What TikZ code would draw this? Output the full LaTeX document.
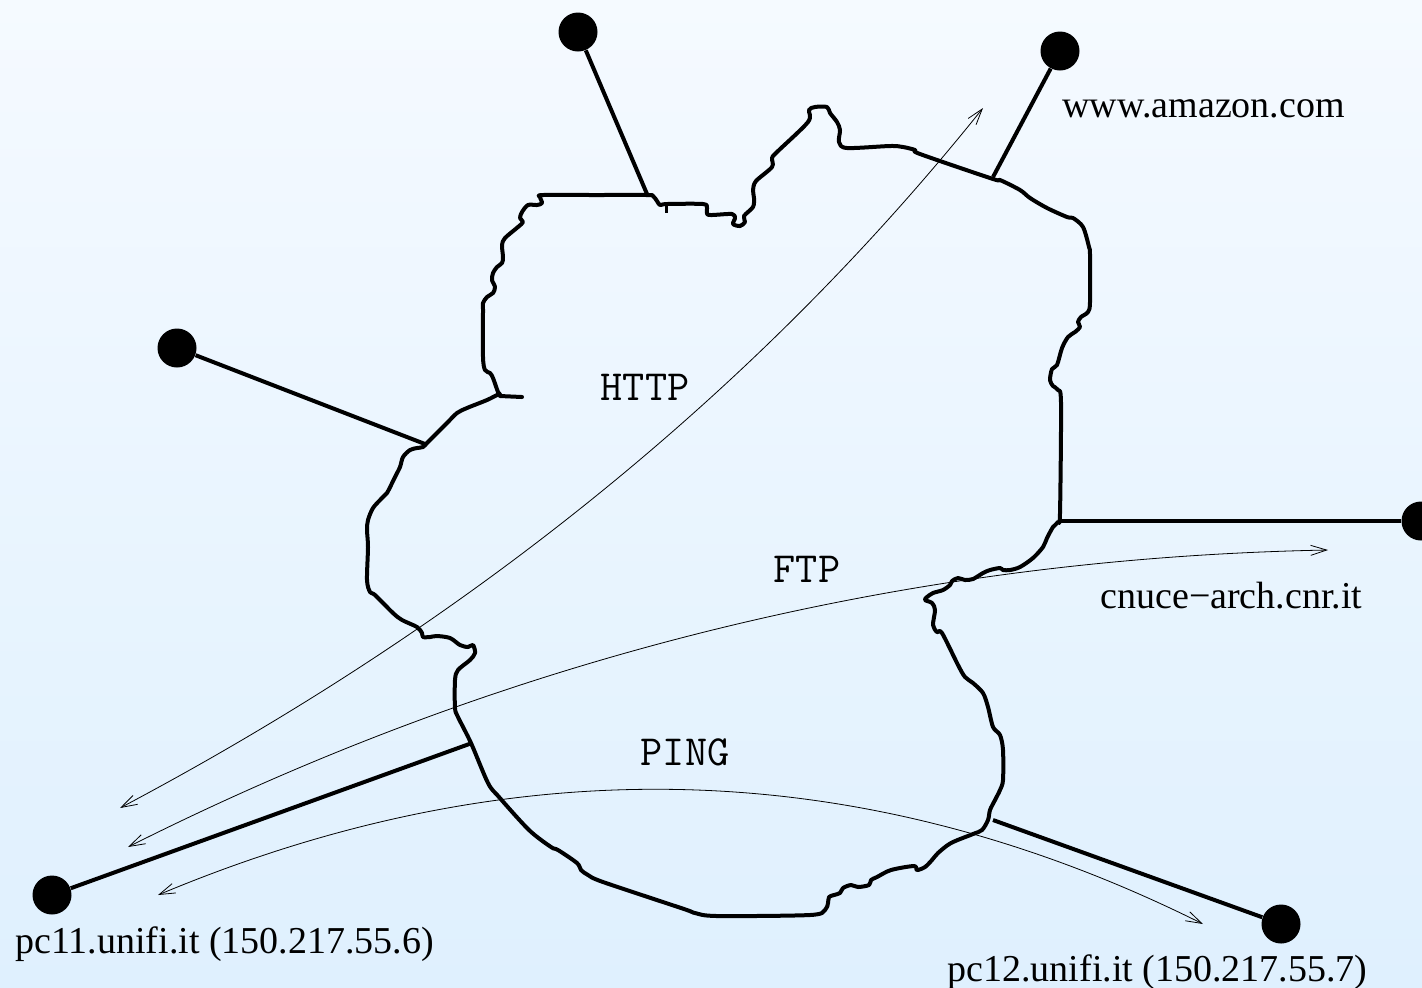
\documentclass[tikz,border=0pt]{standalone}
\usepackage{fontspec}
\setmainfont{Liberation Serif}
\usetikzlibrary{arrows.meta}
\definecolor{bgtop}{RGB}{245,250,255}
\definecolor{bgbot}{RGB}{223,240,254}
\begin{document}
\begin{tikzpicture}[x=0.5pt,y=-0.5pt,
  host/.style={circle,fill=black,inner sep=0pt,minimum size=19.5pt},
  wire/.style={line width=2pt},
  border/.style={line width=2pt,line join=round,line cap=round},
  flow/.style={line width=0.4pt,{Straight Barb[length=8pt,width=5pt]}-{Straight Barb[length=8pt,width=5pt]}},
  hostname/.style={inner sep=0pt,anchor=base west,font=\fontsize{19pt}{22pt}\selectfont},
  proto/.style={inner sep=0pt,font=\fontsize{21.5pt}{24pt}\selectfont\ttfamily}]
\useasboundingbox (0,0) rectangle (1422,987);
\clip (0,0) rectangle (1422,987);
\shade[top color=bgtop,bottom color=bgbot] (0,0) rectangle (1422,987);

% network outline
\draw[border] plot[smooth cycle,tension=0.5] coordinates {
(543,195) (595,195) (647,195) (653,196) (657,201) (660,205) (667,204) (703,204) (707,208) (707,214) (712,215) (732,214) (735,218) (733,224) (740,226) (745,222) (744,216) (753,207) (754,198) (753,190) (756,181) (772,167) (772,158) (777,152) (808,122) (809,110) (815,107) (827,107) (830,113) (837,122) (840,130) (839,142) (847,148) (890,146) (903,147) (915,150) (920,154) (993,179) (1000,180) (1020,190) (1030,198) (1047,208) (1067,217) (1073,218) (1083,227) (1089,247) (1090,255) (1090,302) (1088,312) (1081,317) (1078,322) (1080,327) (1075,332) (1068,337) (1062,348) (1057,365) (1052,369) (1050,380) (1053,386) (1058,390) (1061,403) (1060,513) (1058,522) (1053,527) (1047,538) (1043,547) (1033,558) (1020,567) (1010,570) (1003,570) (1000,568) (990,570) (983,573) (973,579) (965,580) (958,578) (952,581) (950,585) (943,590) (933,593) (927,597) (925,600) (932,603) (935,610) (933,625) (937,632) (942,633) (958,665) (965,677) (973,683) (983,693) (988,707) (993,727) (1000,735) (1003,750) (1003,780) (1000,790) (995,800) (990,810) (988,820) (982,830) (973,834) (951,843) (938,853) (932,860) (925,867) (917,870) (914,866) (891,870) (877,877) (871,880) (869,885) (858,887) (851,885) (843,888) (840,893) (834,895) (829,897) (828,903) (825,910) (810,915) (717,916) (695,913) (684,909) (603,882) (588,875) (581,870) (577,863) (558,850) (551,847) (529,830) (499,797) (488,783) (471,743) (458,717) (455,708) (455,680) (458,670) (470,660) (475,653) (473,645) (468,647) (460,645) (450,638) (437,636) (430,637) (423,637) (422,633) (417,627) (402,620) (393,613) (375,595) (370,592) (367,580) (368,547) (367,530) (368,520) (373,508) (382,498) (387,493) (395,477) (400,467) (403,457) (410,450) (417,448) (423,447) (427,443) (433,437) (447,423) (457,413) (467,408) (487,400) (497,395) (500,394) (498,392) (493,378) (490,373) (485,370) (483,357) (483,310) (483,303) (487,297) (493,293) (495,287) (492,280) (493,273) (497,267) (502,263) (503,257) (502,245) (505,238) (518,227) (523,222) (520,218) (522,212) (528,205) (537,205) (542,203) (540,197)};
\draw[border] (500,396) -- (522,397);
\draw[line width=1.5pt] (666,205) -- (666,213);

% attachment points on the outline
\coordinate (cTop) at (647,194);
\coordinate (cAmz) at (993,177);
\coordinate (cLeft) at (425,444);
\coordinate (cCnu) at (1060,521);
\coordinate (cPc11) at (472,743);
\coordinate (cPc12) at (993,820);

% hosts
\node[host] (dTop) at (578,32) {};
\node[host] (dAmz) at (1060,51) {};
\node[host] (dLeft) at (177,348) {};
\node[host] (dCnu) at (1421,521) {};
\node[host] (dPc11) at (52,895) {};
\node[host] (dPc12) at (1281,924) {};

\draw[wire] (dTop) -- (cTop);
\draw[wire] (dAmz) -- (cAmz);
\draw[wire] (dLeft) -- (cLeft);
\draw[wire] (dCnu) -- (cCnu);
\draw[wire] (dPc11) -- (cPc11);
\draw[wire] (dPc12) -- (cPc12);

% labels
\node[hostname] (lAmz) at (1062,117) {www.amazon.com};
\node[hostname] (lCnu) at (1100,608) {cnuce−arch.cnr.it};
\node[hostname] (lPc11) at (15,953) {pc11.unifi.it (150.217.55.6)};
\node[hostname] (lPc12) at (947,981) {pc12.unifi.it (150.217.55.7)};
\node[proto] (tHttp) at (645,387) {HTTP};
\node[proto] (tFtp) at (807,569) {FTP};
\node[proto] (tPing) at (685,752) {PING};

% flows
\coordinate (h1) at (120,808);
\coordinate (h2) at (983,108);
\coordinate (f1) at (128,847);
\coordinate (f2) at (1328,550);
\coordinate (p1) at (158,895);
\coordinate (p2) at (1203,924);
\draw[flow] (h1) .. controls (471,622) and (758,389) .. (h2);
\draw[flow] (f1) .. controls (506,657) and (907,558) .. (f2);
\draw[flow] (p1) .. controls (516,745) and (864,755) .. (p2);
\end{tikzpicture}
\end{document}
